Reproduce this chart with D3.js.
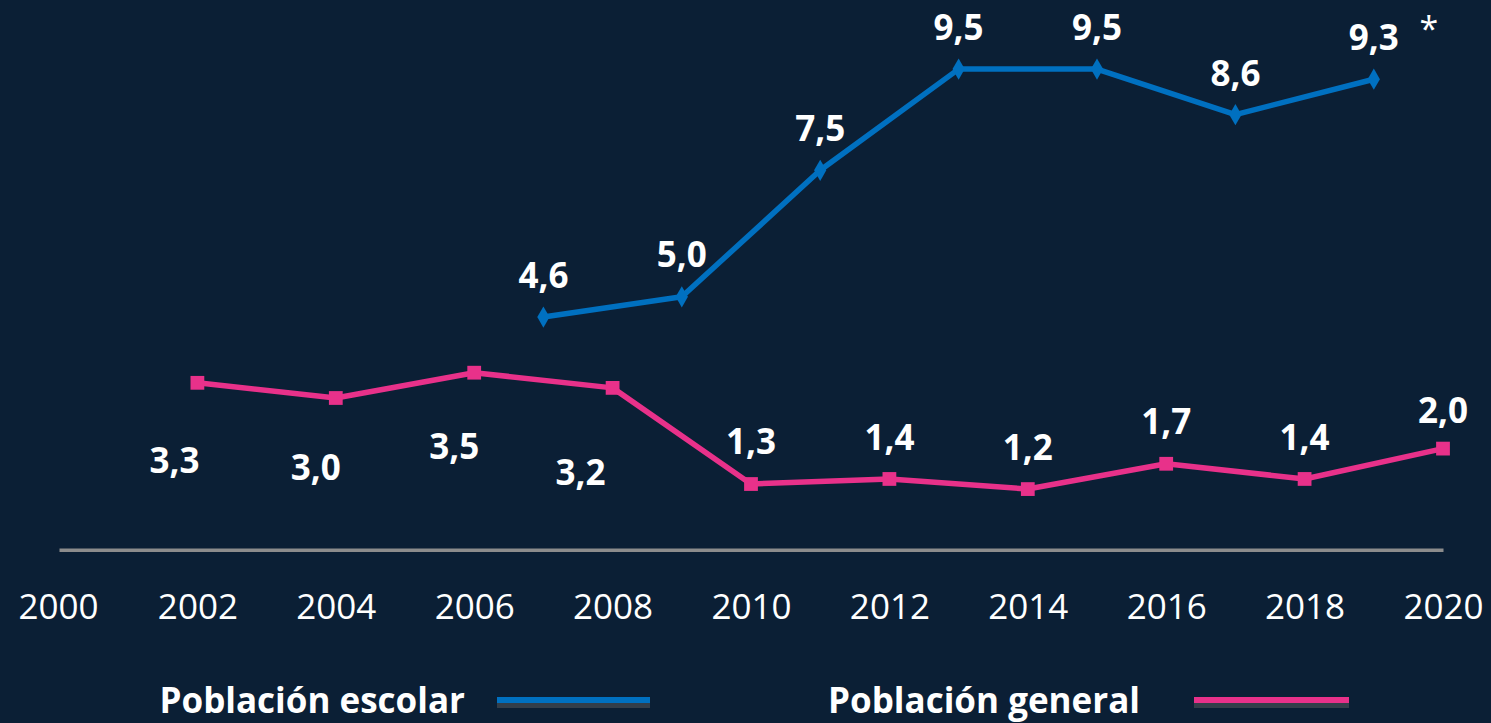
<!DOCTYPE html>
<html>
<head>
<meta charset="utf-8">
<script src="https://cdnjs.cloudflare.com/ajax/libs/d3/7.8.5/d3.min.js"></script>
<style>
  html, body { margin: 0; padding: 0; background: #0b1f35; }
  svg { display: block; }
</style>
</head>
<body>
<div id="chart"></div>
<script>
// data
var yearTicks = [2000, 2002, 2004, 2006, 2008, 2010, 2012, 2014, 2016, 2018, 2020];

var escolarYears = [2007, 2009, 2011, 2013, 2015, 2017, 2019];
var escolarValues = [4.6, 5.0, 7.5, 9.5, 9.5, 8.6, 9.3];

var generalYears = [2002, 2004, 2006, 2008, 2010, 2012, 2014, 2016, 2018, 2020];
var generalValues = [3.3, 3.0, 3.5, 3.2, 1.3, 1.4, 1.2, 1.7, 1.4, 2.0];

// label nudges (px) like the hand-moved labels in the original
var escolarLabelDx = [0, 0, 0, 0, 0, 0, 0];
var escolarLabelDy = [-42, -42, -42, -42, -42, -41, -42];
var generalLabelDx = [-23, -20, -20, -32, 0, 0, 0, 0, 0, 0];
var generalLabelDy = [78, 69, 74, 85, -43, -42, -42, -42, -42, -38];

var width = 1491, height = 723;
var blue = "#0070c0", pink = "#e8318a";

var svg = d3.select("#chart").append("svg")
  .attr("width", width)
  .attr("height", height);

svg.append("rect")
  .attr("width", width)
  .attr("height", height)
  .attr("fill", "#0b1f35");

var x = d3.scaleLinear()
  .domain([2000, 2020])
  .range([59, 1443]);

var y = d3.scaleLinear()
  .domain([0, 10])
  .range([549.8, 43.8]);

var fmt = function (v) { return d3.format(".1f")(v).replace(".", ","); };

// x axis
var xAxis = d3.axisBottom(x)
  .tickValues(yearTicks)
  .tickFormat(d3.format("d"))
  .tickSize(0)
  .tickPadding(0);

var ax = svg.append("g")
  .attr("transform", "translate(0," + y(0) + ")")
  .call(xAxis);

ax.select(".domain")
  .attr("stroke", "#8c8c8c")
  .attr("stroke-width", 3.5);

ax.selectAll(".tick text")
  .attr("fill", "#ffffff")
  .attr("y", 69)
  .attr("dy", 0)
  .style("font-family", "'Open Sans', sans-serif")
  .style("font-size", "35px");

ax.selectAll(".tick").filter(function (d) { return d === 2000; })
  .select("text").attr("dx", -1);

function drawSeries(years, values, color, markerType, dxs, dys) {
  var pts = years.map(function (yr, i) { return { year: yr, value: values[i], i: i }; });

  var line = d3.line()
    .x(function (d) { return x(d.year); })
    .y(function (d) { return y(d.value); });

  svg.append("path")
    .datum(pts)
    .attr("d", line)
    .attr("fill", "none")
    .attr("stroke", color)
    .attr("stroke-width", 5.5)
    .attr("stroke-linejoin", "round");

  svg.selectAll(null)
    .data(pts)
    .enter()
    .append("path")
    .attr("transform", function (d) { return "translate(" + x(d.year) + "," + y(d.value) + ")"; })
    .attr("d", d3.symbol().type(markerType).size(markerType === d3.symbolSquare ? 190 : 130))
    .attr("fill", color);

  svg.selectAll(null)
    .data(pts)
    .enter()
    .append("text")
    .attr("x", function (d) { return x(d.year) + dxs[d.i]; })
    .attr("y", function (d) { return y(d.value) + dys[d.i]; })
    .attr("dy", "0.36em")
    .attr("text-anchor", "middle")
    .attr("fill", "#ffffff")
    .style("font-family", "'Open Sans', sans-serif")
    .style("font-weight", "bold")
    .style("font-size", "35px")
    .text(function (d) { return fmt(d.value); });
}

drawSeries(generalYears, generalValues, pink, d3.symbolSquare, generalLabelDx, generalLabelDy);
drawSeries(escolarYears, escolarValues, blue, d3.symbolDiamond, escolarLabelDx, escolarLabelDy);

// asterisk on the last school value
svg.append("text")
  .attr("x", x(2019) + 55)
  .attr("y", y(9.3) - 38)
  .attr("text-anchor", "middle")
  .attr("fill", "#ffffff")
  .style("font-family", "'Open Sans', sans-serif")
  .style("font-size", "34px")
  .text("*");

// legend
var legendItems = [
  { label: "Población escolar", color: blue, textEnd: 465, x0: 497, x1: 650 },
  { label: "Población general", color: pink, textEnd: 1140, x0: 1194, x1: 1349 }
];

var legend = svg.selectAll(".legend")
  .data(legendItems)
  .enter().append("g")
  .attr("class", "legend");

legend.append("text")
  .attr("x", function (d) { return d.textEnd; })
  .attr("y", 700)
  .attr("dy", "0.36em")
  .attr("text-anchor", "end")
  .attr("fill", "#ffffff")
  .style("font-family", "'Open Sans', sans-serif")
  .style("font-weight", "bold")
  .style("font-size", "35px")
  .text(function (d) { return d.label; });

legend.append("rect")
  .attr("x", function (d) { return d.x0; })
  .attr("y", 703)
  .attr("width", function (d) { return d.x1 - d.x0; })
  .attr("height", 5)
  .attr("fill", "#333e4a");

legend.append("rect")
  .attr("x", function (d) { return d.x0; })
  .attr("y", 697)
  .attr("width", function (d) { return d.x1 - d.x0; })
  .attr("height", 6)
  .attr("fill", function (d) { return d.color; });
</script>
</body>
</html>
